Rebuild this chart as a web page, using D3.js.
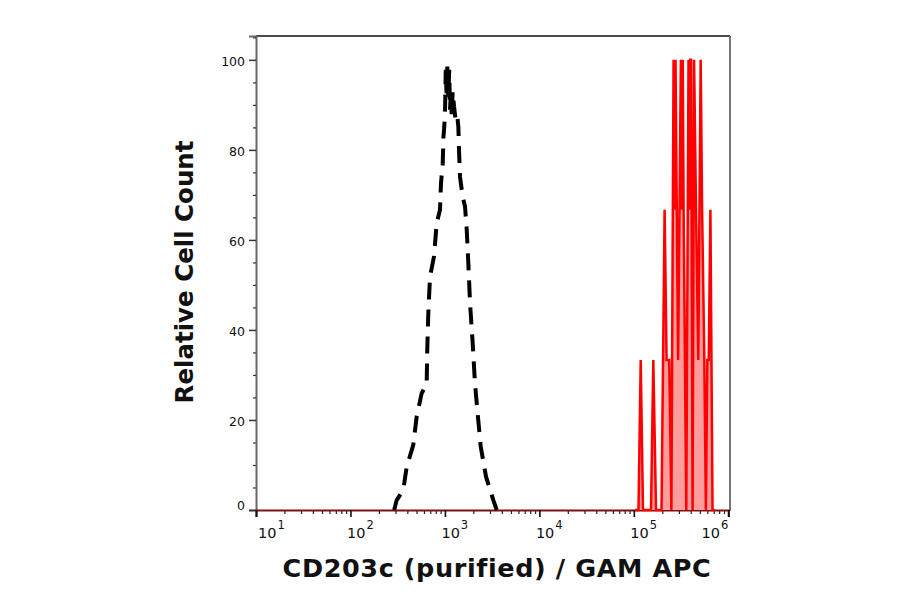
<!DOCTYPE html>
<html><head><meta charset="utf-8">
<script src="https://cdn.jsdelivr.net/npm/d3@7"></script>
<style>body{margin:0;background:#fff} svg{display:block}</style>
</head><body>
<svg id="chart" width="900" height="594"></svg>
<script>
// ---- data ----
const xTickValues = [1e1, 1e2, 1e3, 1e4, 1e5, 1e6];
const xTickExponents = ["1", "2", "3", "4", "5", "6"];
const yTickValues = [0, 20, 40, 60, 80, 100];
const yMinorTicks = [5, 10, 15, 25, 30, 35, 45, 50, 55, 65, 70, 75, 85, 90, 95, 105];

// isotype control (black dashed)
const controlX = [290, 309, 362, 394, 462, 502, 567, 641, 650, 667, 695, 766, 818, 887, 909, 948, 965,
  985, 1005, 1020, 1040, 1060, 1086, 1110, 1132, 1160, 1180, 1208, 1250, 1300, 1352, 1387, 1410,
  1445, 1542, 1633, 1702, 1770, 1845, 1969, 2081, 2203, 2393, 2723, 3253, 3533];
const controlY = [0, 2.2, 4.4, 9.6, 14.4, 20.7, 25.9, 28, 35.5, 43.7, 51.8, 56.3, 63.7, 66.7, 72.6, 77, 82.9,
  85.2, 89.6, 97.8, 92.6, 98.5, 91.8, 97.8, 88.9, 93.3, 87.4, 93, 89.6, 86.5, 87.4, 85.2, 80,
  74, 69.6, 67.4, 62.2, 54.8, 45.9, 37, 28.1, 22.2, 14.1, 7.4, 2.2, 0];

// CD203c stained (red filled)
const stainedX = [102900, 112000, 118240, 125040, 152000, 160750, 171700, 196300, 211700, 222300,
  237000, 249700, 263400, 269500, 276200, 294100, 314800, 321900, 329600, 336500, 359000, 379200,
  387200, 395300, 403700, 418600, 434300, 455400, 480900, 510000, 528000, 557600, 579000, 600000,
  620700, 646600, 680800, 716000];
const stainedY = [0, 0, 33.3, 0, 0, 33.3, 0, 0, 66.7, 33.3,
  33.3, 0, 100, 66.7, 100, 33.3, 100, 66.7, 100, 66.7, 0, 100,
  66.7, 100, 100, 0, 100, 66.7, 33.3, 100, 66.7, 33.3, 0, 33.3,
  33.3, 66.7, 0, 0];

// ---- layout ----
const svg = d3.select("#chart");
const x = d3.scaleLog().domain([1e1, 1e6]).range([256, 728.3]);
const y = d3.scaleLinear().domain([0, 105.3]).range([510, 36]);

// frame (top + right)
svg.append("line").attr("x1", 256).attr("x2", 730).attr("y1", 36).attr("y2", 36)
  .attr("stroke", "#111").attr("stroke-width", 1.5);
svg.append("line").attr("x1", 730).attr("x2", 730).attr("y1", 36).attr("y2", 511)
  .attr("stroke", "#777").attr("stroke-width", 2);

// y axis
const yAxis = svg.append("g").attr("transform", "translate(256,0)")
  .call(d3.axisLeft(y).tickValues(yTickValues).tickSize(7).tickPadding(4).tickFormat(d3.format("d")));
yAxis.select(".domain").attr("stroke", "#666").attr("stroke-width", 2);
yAxis.selectAll(".tick line").attr("stroke", "#333").attr("stroke-width", 1.5);
yAxis.selectAll(".tick text").attr("font-family", "DejaVu Sans").attr("font-size", 12.5).attr("fill", "#111")
  .attr("dy", d => d === 0 ? "-0.05em" : "0.45em");
const yMinor = svg.append("g").attr("transform", "translate(256,0)")
  .call(d3.axisLeft(y).tickValues(yMinorTicks).tickSize(3).tickFormat(""));
yMinor.select(".domain").remove();
yMinor.selectAll(".tick line").attr("stroke", "#333").attr("stroke-width", 1.2);

// x axis
const xMinorVals = [];
xTickValues.slice(0, -1).forEach(d => { for (let k = 2; k <= 9; k++) xMinorVals.push(d * k); });
const xMinor = svg.append("g").attr("transform", "translate(0,510)")
  .call(d3.axisBottom(x).tickValues(xMinorVals).tickSize(4).tickFormat(""));
xMinor.select(".domain").remove();
xMinor.selectAll(".tick line").attr("stroke", "#222").attr("stroke-width", 1.2);
const xAxis = svg.append("g").attr("transform", "translate(0,510)")
  .call(d3.axisBottom(x).tickValues(xTickValues).tickSize(7).tickFormat(""));
xAxis.select(".domain").attr("stroke", "#7a1212").attr("stroke-width", 2.2);
xAxis.selectAll(".tick line").attr("stroke", "#111").attr("stroke-width", 1.6);

// x tick labels with superscripts
const xl = svg.append("g").attr("font-family", "DejaVu Sans").attr("fill", "#111");
xTickValues.forEach((d, i) => {
  const last = i === xTickValues.length - 1;
  const first = i === 0;
  const t = xl.append("text")
    .attr("x", first ? x(d) + 2 : last ? x(d) : x(d) - 3.5)
    .attr("y", 538)
    .attr("text-anchor", last ? "end" : "start");
  t.append("tspan").attr("font-size", 14.5).text("10");
  t.append("tspan").attr("font-size", 11.5).attr("dy", -9).attr("dx", 1).text(xTickExponents[i]);
});

// data
const pts = (xs, ys) => xs.map((v, i) => [v, ys[i]]);
const area = d3.area().x(d => x(d[0])).y0(y(0)).y1(d => y(d[1]));
const line = d3.line().x(d => x(d[0])).y(d => y(d[1]));

const stained = pts(stainedX, stainedY);
svg.append("path").datum(stained).attr("d", area).attr("fill", "#ff9c9c");
svg.append("path").datum(stained).attr("d", line).attr("fill", "none")
  .attr("stroke", "#f00").attr("stroke-width", 2.5).attr("stroke-linejoin", "miter");

const control = pts(controlX, controlY);
svg.append("path").datum(control).attr("d", line).attr("fill", "none")
  .attr("stroke", "#000").attr("stroke-width", 4).attr("stroke-dasharray", "17,10");

// titles
svg.append("text").attr("x", 497).attr("y", 577).attr("text-anchor", "middle")
  .attr("font-family", "DejaVu Sans").attr("font-weight", "bold").attr("font-size", 25.5)
  .attr("letter-spacing", 0.6).attr("fill", "#111")
  .text("CD203c (purified) / GAM APC");
svg.append("text").attr("transform", "translate(193,272) rotate(-90)").attr("text-anchor", "middle")
  .attr("font-family", "DejaVu Sans").attr("font-weight", "bold").attr("font-size", 24.5)
  .attr("fill", "#111")
  .text("Relative Cell Count");
</script>
</body></html>
